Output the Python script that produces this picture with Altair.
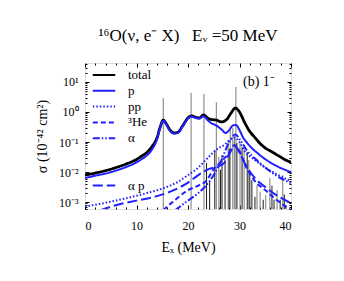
import altair as alt
import pandas as pd

# ---------------- data ----------------
total_x = [0, 2, 4, 6, 8, 10, 11, 12, 13, 14, 14.6, 15.2, 15.8, 16.5, 17.3, 18, 19, 20, 20.7, 21.5, 22.2, 23, 23.8, 24.5, 25.5, 26.5, 27.5, 28.3, 29.2, 30, 31, 32, 33, 34, 35, 36, 37, 38, 39, 40]
total_y = [0.0079, 0.0093, 0.0112, 0.0141, 0.0186, 0.0263, 0.0339, 0.0447, 0.0708, 0.141, 0.316, 0.537, 0.398, 0.251, 0.2, 0.209, 0.355, 0.631, 0.741, 0.661, 0.631, 0.794, 0.631, 0.562, 0.537, 0.468, 0.562, 0.891, 1.35, 1.0, 0.447, 0.224, 0.141, 0.0891, 0.0631, 0.0501, 0.0398, 0.0316, 0.0251, 0.0214]

p_x = [0, 2, 4, 6, 8, 10, 11, 12, 13, 14, 14.6, 15.2, 15.8, 16.5, 17.3, 18, 19, 20, 20.7, 21.5, 22.2, 23, 23.8, 24.5, 25.5, 26.5, 27.3, 28, 28.7, 29.3, 30, 30.7, 31.5, 32.5, 33.5, 35, 37, 40]
p_y = [0.0063, 0.0076, 0.0089, 0.0112, 0.0148, 0.0209, 0.0269, 0.0355, 0.0562, 0.126, 0.302, 0.513, 0.38, 0.24, 0.191, 0.2, 0.339, 0.603, 0.708, 0.631, 0.603, 0.724, 0.537, 0.427, 0.355, 0.263, 0.2, 0.251, 0.355, 0.372, 0.251, 0.141, 0.0933, 0.0603, 0.0427, 0.0269, 0.0166, 0.01]

pp_x = [0, 4, 8, 12, 15, 18, 20, 22, 24, 25.5, 27, 28, 29, 30, 31, 33, 35, 37, 40]
pp_y = [0.00071, 0.00095, 0.00135, 0.002, 0.00282, 0.00468, 0.00794, 0.0141, 0.0316, 0.0562, 0.0794, 0.112, 0.141, 0.1, 0.0501, 0.0251, 0.0141, 0.0089, 0.005]

he3_x = [15.2, 17, 20, 22, 23.5, 25, 26.5, 28, 29, 30, 31.5, 33, 35, 37, 40]
he3_y = [0.00054, 0.001, 0.00251, 0.00355, 0.00501, 0.0126, 0.0224, 0.0447, 0.0794, 0.0447, 0.0126, 0.00501, 0.00251, 0.00126, 0.00054]

alpha_x = [17.5, 20, 22, 23.5, 25, 26.5, 28, 29.2, 30.2, 31.4, 33, 35, 37, 40]
alpha_y = [0.00054, 0.00112, 0.002, 0.00355, 0.00794, 0.0251, 0.1, 0.178, 0.112, 0.0537, 0.0282, 0.0141, 0.00794, 0.00427]

ap_x = [3, 6, 10, 14, 17, 20, 22, 24, 26, 27, 28, 29, 30, 31, 33, 35, 37, 40]
ap_y = [0.00054, 0.00079, 0.00112, 0.00158, 0.0024, 0.00447, 0.00794, 0.0126, 0.0158, 0.02, 0.0398, 0.0708, 0.0501, 0.02, 0.00631, 0.00316, 0.00178, 0.00093]

# discrete strengths (spikes)
spike_x = [15.2, 20.6, 23.1, 25.5, 29.3, 23.6, 24.2, 25.2, 26.0, 26.6, 27.2, 27.8, 28.2, 28.7, 29.5, 30.1, 30.5, 30.9, 31.5, 31.8, 32.4, 33.0, 33.4, 34.6, 35.1, 35.9, 36.7, 37.3, 37.9, 38.4, 39.0, 26.3, 28.0, 29.0, 32.0, 34.0, 36.3, 38.7]
spike_top = [2.9, 4.3, 4.0, 2.1, 6.8, 0.02, 0.005, 0.054, 0.032, 0.037, 0.025, 0.117, 0.25, 0.3, 0.093, 0.093, 0.068, 0.08, 0.047, 0.025, 0.0054, 0.0015, 0.0037, 0.0012, 0.0017, 0.0063, 0.0012, 0.0025, 0.0012, 0.0079, 0.0008, 0.012, 0.06, 0.15, 0.012, 0.0022, 0.0035, 0.0018]
spike_kind = ["gray", "gray", "gray", "gray", "gray", "black", "black", "black", "gray", "black", "black", "gray", "gray", "gray", "black", "gray", "black", "gray", "black", "gray", "black", "black", "gray", "black", "gray", "gray", "black", "gray", "black", "gray", "black", "black", "black", "gray", "black", "gray", "black", "black"]

series_names = ["total", "p", "pp", "³He", "α", " ", "  ", "α p"]
series_colors = ["#000000", "#1f1fff", "#1f1fff", "#1f1fff", "#1f1fff", "rgba(0,0,0,0)", "rgba(0,0,0,0)", "#1f1fff"]
series_dash = [[1, 0], [1, 0], [1.5, 2], [5, 3], [7, 2, 1.5, 2, 1.5, 2], [1, 0], [1, 0], [10, 4]]

x_major = [0, 10, 20, 30, 40]
x_minor = [2, 4, 6, 8, 12, 14, 16, 18, 22, 24, 26, 28, 32, 34, 36, 38]
y_major = [0.001, 0.01, 0.1, 1, 10]
y_minor = [m * d for d in [0.0001, 0.001, 0.01, 0.1, 1, 10] for m in range(2, 10)]
y_minor = [v for v in y_minor if 0.00059 < v < 42]

NB = "\u00a0"
title_text = "¹⁶O(ν, e⁻ X)" + NB * 3 + "Eᵥ" + NB + "=50 MeV"
x_title = "Eₓ (MeV)"
y_title = "σ (10⁻⁴² cm²)"
panel_label = "(b) 1⁻"

# ---------------- build ----------------
FONT = "Liberation Serif"
rows = []
for name, xs, ys in [("total", total_x, total_y), ("p", p_x, p_y), ("pp", pp_x, pp_y),
                     ("³He", he3_x, he3_y), ("α", alpha_x, alpha_y), ("α p", ap_x, ap_y)]:
    for i, (a, b) in enumerate(zip(xs, ys)):
        rows.append({"series": name, "E": a, "sigma": b, "order": i})
curves = pd.DataFrame(rows)
spikes = pd.DataFrame({"E": spike_x, "top": spike_top, "kind": spike_kind})

W, H = 206, 146
xscale = alt.Scale(domain=[0, 40], nice=False, zero=False)
yscale = alt.Scale(type="log", domain=[0.00059, 42.7], nice=False)

leg = alt.Legend(title=None, orient="none", legendX=8, legendY=4,
                 symbolType="M-1.6,0H1.6", symbolSize=196, symbolStrokeWidth=2,
                 labelFont=FONT, labelFontSize=13, labelColor="black",
                 rowPadding=0.8, labelOffset=16, symbolOffset=3, padding=0)
color_enc = alt.Color("series:N", scale=alt.Scale(domain=series_names, range=series_colors), legend=leg)
dash_enc = alt.StrokeDash("series:N", scale=alt.Scale(domain=series_names, range=series_dash), legend=leg)

spike_layer = alt.Chart(spikes).mark_rule(strokeWidth=1, clip=True).encode(
    x=alt.X("E:Q", scale=xscale, axis=None),
    y=alt.Y("top:Q", scale=yscale, axis=None),
    y2=alt.value(H),
    stroke=alt.Stroke("kind:N", scale=alt.Scale(domain=["gray", "black"], range=["#7a7a7a", "#1a1a1a"]), legend=None),
)

def curve_layer(name, width):
    return alt.Chart(curves).transform_filter(alt.datum.series == name).mark_line(
        strokeWidth=width, clip=True, interpolate="monotone").encode(
        x=alt.X("E:Q", scale=xscale, axis=None),
        y=alt.Y("sigma:Q", scale=yscale, axis=None),
        color=color_enc, strokeDash=dash_enc, order="order:Q")

layers = [spike_layer]
for nm in ["α p", "³He", "α", "pp", "total", "p"]:
    layers.append(curve_layer(nm, 2.8 if nm == "total" else 2))

def axis_layer(xaxis, yaxis):
    return alt.Chart(curves).mark_point(opacity=0).encode(
        x=alt.X("E:Q", scale=xscale, axis=xaxis),
        y=alt.Y("sigma:Q", scale=yscale, axis=yaxis))

lab_common = dict(labelFont=FONT, labelFontSize=12, labelColor="black", grid=False, domain=False,
                  titleFont=FONT, titleFontSize=14, titleFontWeight="normal", titleColor="black")
xlab = alt.Axis(orient="bottom", values=x_major, tickSize=0, labelPadding=11, title=x_title,
                titleX=W / 2, titleY=42, titleBaseline="alphabetic", **lab_common)
ylab = alt.Axis(orient="left", values=y_major, tickSize=0, labelPadding=7, title=y_title,
                labelExpr="datum.value >= 10 ? '10¹' : datum.value >= 1 ? '10⁰' : datum.value >= 0.1 ? '10⁻¹' : datum.value >= 0.01 ? '10⁻²' : '10⁻³'",
                titleX=-43, titleY=H / 2, titleAngle=-90, titleAlign="center", titleBaseline="middle", **lab_common)

def tick_axis(orient, vals, size):
    return alt.Axis(orient=orient, values=vals, tickSize=size, offset=-size, labels=False, domain=False,
                    grid=False, title=None, tickColor="black", tickWidth=1)

layers.append(axis_layer(xlab, ylab))
layers.append(axis_layer(tick_axis("bottom", x_major, 4), tick_axis("left", y_major, 4)))
layers.append(axis_layer(tick_axis("bottom", x_minor, 2), tick_axis("left", y_minor, 2)))
layers.append(axis_layer(tick_axis("top", x_major, 4), tick_axis("right", y_major, 4)))
layers.append(axis_layer(tick_axis("top", x_minor, 2), tick_axis("right", y_minor, 2)))

label_layer = alt.Chart(pd.DataFrame({"t": [panel_label]})).mark_text(
    font=FONT, fontSize=14, align="left", baseline="alphabetic", color="black").encode(
    text="t:N", x=alt.value(158), y=alt.value(23))
layers.append(label_layer)

chart = alt.layer(*layers).resolve_axis(x="independent", y="independent").properties(
    width=W, height=H,
    title=alt.TitleParams(title_text, font=FONT, fontSize=17, fontWeight="normal", color="black",
                          anchor="middle", baseline="alphabetic", offset=5),
    autosize=alt.AutoSizeParams(type="none"),
    padding={"left": 77, "top": 55, "right": 45, "bottom": 64},
).configure_view(stroke="black", strokeWidth=1).configure(background="white")

chart.save("out.html", embed_options={"renderer": "svg", "actions": False})
